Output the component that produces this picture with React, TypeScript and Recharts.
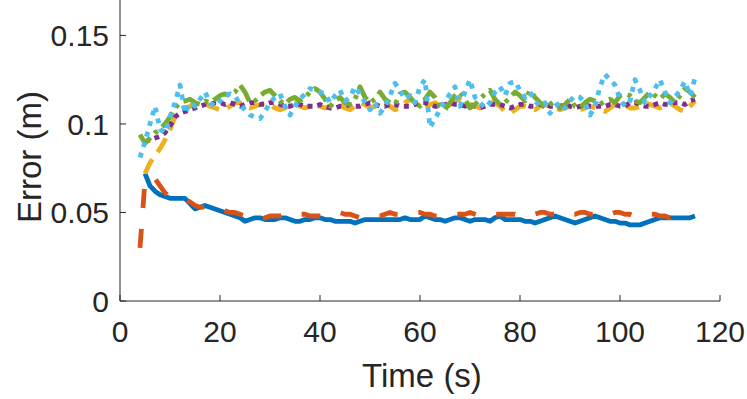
import { LineChart, Line, XAxis, YAxis, Label } from 'recharts'

// sample times (s)
const time = [
  4, 5, 6, 7, 8, 9, 10, 11, 12, 13,
  14, 15, 16, 17, 18, 19, 20, 21, 22, 23,
  24, 25, 26, 27, 28, 29, 30, 31, 32, 33,
  34, 35, 36, 37, 38, 39, 40, 41, 42, 43,
  44, 45, 46, 47, 48, 49, 50, 51, 52, 53,
  54, 55, 56, 57, 58, 59, 60, 61, 62, 63,
  64, 65, 66, 67, 68, 69, 70, 71, 72, 73,
  74, 75, 76, 77, 78, 79, 80, 81, 82, 83,
  84, 85, 86, 87, 88, 89, 90, 91, 92, 93,
  94, 95, 96, 97, 98, 99, 100, 101, 102, 103,
  104, 105, 106, 107, 108, 109, 110, 111, 112, 113,
  114, 115,
]

const blue = [
  null, 0.072, 0.065, 0.062, 0.060, 0.059, 0.058, 0.058, 0.058, 0.058,
  0.055, 0.052, 0.053, 0.054, 0.053, 0.052, 0.051, 0.050, 0.049, 0.048,
  0.047, 0.045, 0.046, 0.047, 0.047, 0.046, 0.046, 0.046, 0.047, 0.047,
  0.046, 0.045, 0.045, 0.046, 0.046, 0.047, 0.047, 0.046, 0.046, 0.045,
  0.045, 0.045, 0.045, 0.044, 0.045, 0.046, 0.046, 0.046, 0.046, 0.046,
  0.046, 0.046, 0.046, 0.047, 0.046, 0.046, 0.046, 0.048, 0.047, 0.046,
  0.046, 0.045, 0.046, 0.047, 0.047, 0.046, 0.045, 0.046, 0.046, 0.046,
  0.045, 0.047, 0.048, 0.046, 0.046, 0.046, 0.046, 0.045, 0.045, 0.044,
  0.045, 0.046, 0.047, 0.048, 0.047, 0.046, 0.045, 0.044, 0.045, 0.046,
  0.047, 0.048, 0.047, 0.046, 0.045, 0.045, 0.044, 0.044, 0.043, 0.043,
  0.043, 0.044, 0.045, 0.046, 0.047, 0.047, 0.047, 0.047, 0.047, 0.047,
  0.047, 0.048,
]

const orange = [
  0.030, 0.068, 0.070, 0.069, 0.065, 0.061, 0.059, 0.058, 0.058, 0.057,
  0.056, 0.054, 0.053, 0.053, 0.053, 0.053, 0.052, 0.051, 0.050, 0.050,
  0.049, 0.048, 0.047, 0.047, 0.046, 0.047, 0.048, 0.048, 0.048, 0.049,
  0.050, 0.050, 0.049, 0.049, 0.048, 0.048, 0.048, 0.048, 0.049, 0.050,
  0.050, 0.049, 0.049, 0.048, 0.047, 0.047, 0.048, 0.048, 0.048, 0.049,
  0.050, 0.049, 0.049, 0.049, 0.049, 0.050, 0.050, 0.049, 0.049, 0.048,
  0.048, 0.048, 0.049, 0.049, 0.049, 0.049, 0.050, 0.049, 0.048, 0.048,
  0.049, 0.049, 0.049, 0.049, 0.049, 0.049, 0.048, 0.048, 0.048, 0.049,
  0.050, 0.050, 0.049, 0.049, 0.048, 0.048, 0.049, 0.049, 0.050, 0.050,
  0.049, 0.049, 0.048, 0.048, 0.049, 0.050, 0.050, 0.049, 0.049, 0.048,
  0.048, 0.048, 0.049, 0.049, 0.048, 0.048, 0.047, 0.049, 0.050, 0.050,
  0.050, null,
]

const yellow = [
  null, 0.072, 0.078, 0.082, 0.086, 0.091, 0.097, 0.104, 0.108, 0.109,
  0.110, 0.112, 0.113, 0.112, 0.110, 0.109, 0.108, 0.108, 0.110, 0.112,
  0.112, 0.110, 0.109, 0.110, 0.111, 0.112, 0.111, 0.109, 0.108, 0.109,
  0.111, 0.112, 0.110, 0.109, 0.110, 0.111, 0.110, 0.109, 0.110, 0.112,
  0.111, 0.109, 0.108, 0.110, 0.112, 0.111, 0.109, 0.110, 0.111, 0.112,
  0.110, 0.108, 0.109, 0.112, 0.114, 0.112, 0.110, 0.109, 0.111, 0.112,
  0.110, 0.109, 0.111, 0.113, 0.114, 0.112, 0.111, 0.110, 0.109, 0.111,
  0.113, 0.112, 0.110, 0.107, 0.106, 0.108, 0.110, 0.110, 0.109, 0.108,
  0.110, 0.111, 0.110, 0.109, 0.108, 0.109, 0.110, 0.110, 0.108, 0.109,
  0.110, 0.109, 0.108, 0.107, 0.109, 0.111, 0.113, 0.111, 0.109, 0.109,
  0.110, 0.112, 0.111, 0.110, 0.109, 0.110, 0.112, 0.110, 0.108, 0.107,
  0.110, 0.113,
]

const purple = [
  null, 0.090, 0.091, 0.092, 0.093, 0.095, 0.099, 0.104, 0.106, 0.107,
  0.108, 0.109, 0.110, 0.111, 0.111, 0.112, 0.112, 0.111, 0.112, 0.111,
  0.110, 0.111, 0.112, 0.112, 0.111, 0.111, 0.112, 0.112, 0.111, 0.110,
  0.110, 0.111, 0.111, 0.110, 0.110, 0.110, 0.111, 0.110, 0.109, 0.109,
  0.110, 0.110, 0.111, 0.110, 0.110, 0.111, 0.112, 0.111, 0.110, 0.110,
  0.111, 0.111, 0.110, 0.110, 0.110, 0.111, 0.112, 0.112, 0.111, 0.110,
  0.110, 0.111, 0.112, 0.111, 0.111, 0.110, 0.111, 0.110, 0.109, 0.110,
  0.111, 0.111, 0.111, 0.110, 0.109, 0.110, 0.111, 0.111, 0.110, 0.110,
  0.111, 0.111, 0.110, 0.110, 0.110, 0.111, 0.110, 0.109, 0.110, 0.111,
  0.110, 0.110, 0.110, 0.110, 0.111, 0.111, 0.110, 0.110, 0.112, 0.112,
  0.111, 0.110, 0.110, 0.111, 0.112, 0.111, 0.111, 0.112, 0.112, 0.111,
  0.113, 0.114,
]

const green = [
  0.094, 0.089, 0.092, 0.095, 0.097, 0.100, 0.104, 0.109, 0.112, 0.113,
  0.114, 0.112, 0.111, 0.113, 0.112, 0.114, 0.116, 0.117, 0.116, 0.118,
  0.122, 0.118, 0.112, 0.113, 0.116, 0.118, 0.119, 0.116, 0.113, 0.111,
  0.114, 0.115, 0.113, 0.115, 0.118, 0.120, 0.118, 0.114, 0.110, 0.113,
  0.115, 0.112, 0.111, 0.114, 0.121, 0.115, 0.112, 0.114, 0.118, 0.114,
  0.112, 0.111, 0.117, 0.118, 0.115, 0.112, 0.110, 0.114, 0.118, 0.115,
  0.110, 0.108, 0.112, 0.116, 0.118, 0.114, 0.109, 0.111, 0.114, 0.117,
  0.119, 0.114, 0.111, 0.112, 0.115, 0.118, 0.116, 0.113, 0.119, 0.115,
  0.112, 0.109, 0.111, 0.113, 0.109, 0.111, 0.114, 0.110, 0.109, 0.112,
  0.114, 0.113, 0.111, 0.113, 0.114, 0.112, 0.116, 0.117, 0.116, 0.113,
  0.112, 0.115, 0.118, 0.116, 0.114, 0.117, 0.115, 0.112, 0.116, 0.120,
  0.118, 0.115,
]

const cyan = [
  0.081, 0.090, 0.100, 0.110, 0.097, 0.095, 0.104, 0.112, 0.122, 0.106,
  0.112, 0.110, 0.114, 0.118, 0.112, 0.110, 0.113, 0.116, 0.117, 0.116,
  0.111, 0.108, 0.105, 0.104, 0.103, 0.107, 0.112, 0.115, 0.117, 0.110,
  0.105, 0.110, 0.114, 0.117, 0.120, 0.119, 0.118, 0.117, 0.112, 0.116,
  0.119, 0.113, 0.115, 0.121, 0.117, 0.112, 0.108, 0.112, 0.106, 0.110,
  0.116, 0.123, 0.119, 0.114, 0.116, 0.112, 0.121, 0.125, 0.098, 0.103,
  0.108, 0.113, 0.117, 0.121, 0.110, 0.118, 0.125, 0.115, 0.112, 0.109,
  0.112, 0.118, 0.121, 0.116, 0.123, 0.124, 0.119, 0.115, 0.118, 0.113,
  0.110, 0.112, 0.106, 0.110, 0.112, 0.109, 0.113, 0.116, 0.115, 0.112,
  0.105, 0.110, 0.121, 0.128, 0.125, 0.122, 0.114, 0.110, 0.113, 0.125,
  0.119, 0.112, 0.116, 0.120, 0.125, 0.118, 0.112, 0.115, 0.119, 0.124,
  0.116, 0.126,
]

const xTicks = [0, 20, 40, 60, 80, 100, 120]
const yTicks = [0, 0.05, 0.1, 0.15]

const data = time.map((t, i) => ({
  t,
  blue: blue[i],
  orange: orange[i],
  yellow: yellow[i],
  purple: purple[i],
  green: green[i],
  cyan: cyan[i],
}))

const FONT = '"Liberation Sans", Arial, sans-serif'
const INK = '#262626'

function XTick({ x, y, payload }: any) {
  return (
    <g>
      <line x1={x} x2={x} y1={y} y2={y - 6} stroke={INK} strokeWidth={1} />
      <text x={x} y={y + 41} textAnchor="middle" fontSize={30} fill={INK} fontFamily={FONT}>
        {payload.value}
      </text>
    </g>
  )
}

function YTick({ x, y, payload }: any) {
  return (
    <g>
      <line x1={x} x2={x + 6} y1={y} y2={y} stroke={INK} strokeWidth={1} />
      <text x={x - 11} y={y + 11} textAnchor="end" fontSize={30} fill={INK} fontFamily={FONT}>
        {payload.value}
      </text>
    </g>
  )
}

const lineProps = {
  type: 'linear' as const,
  strokeWidth: 4.8,
  strokeLinejoin: 'round' as const,
  dot: false,
  isAnimationActive: false,
}

export default function App() {
  return (
    <div style={{ position: 'absolute', left: 0, top: 0, background: '#fff' }}>
      <LineChart width={747} height={399} data={data}
        margin={{ top: 0, right: 27, bottom: 0, left: 0 }}>
        <XAxis dataKey="t" type="number" domain={[0, 120]} ticks={xTicks} height={98}
          axisLine={{ stroke: INK, strokeWidth: 1 }} tickLine={false} tickSize={0} tickMargin={0}
          tick={<XTick />} interval={0}>
          <Label content={() => (
            <text x={422} y={387} textAnchor="middle" fontSize={33} fill={INK} fontFamily={FONT}>
              Time (s)
            </text>
          )} />
        </XAxis>
        <YAxis type="number" domain={[0, 0.17]} ticks={yTicks} width={120}
          axisLine={{ stroke: INK, strokeWidth: 1 }} tickLine={false} tickSize={0} tickMargin={0}
          tick={<YTick />} interval={0} allowDataOverflow>
          <Label content={() => (
            <text x={41} y={157} transform="rotate(-90 41 157)" textAnchor="middle" fontSize={33}
              fill={INK} fontFamily={FONT}>
              Error (m)
            </text>
          )} />
        </YAxis>
        <Line dataKey="blue" stroke="#0072BD" {...lineProps} />
        <Line dataKey="orange" stroke="#D95319" strokeDasharray="19 21" {...lineProps} />
        <Line dataKey="yellow" stroke="#EDB120" strokeDasharray="16 9" {...lineProps} />
        <Line dataKey="purple" stroke="#7E2F8E" strokeDasharray="5 5" {...lineProps} />
        <Line dataKey="green" stroke="#77AC30" strokeDasharray="18 6 4 6" {...lineProps} />
        <Line dataKey="cyan" stroke="#4DBEEE" strokeDasharray="5 6" {...lineProps} />
      </LineChart>
    </div>
  )
}
